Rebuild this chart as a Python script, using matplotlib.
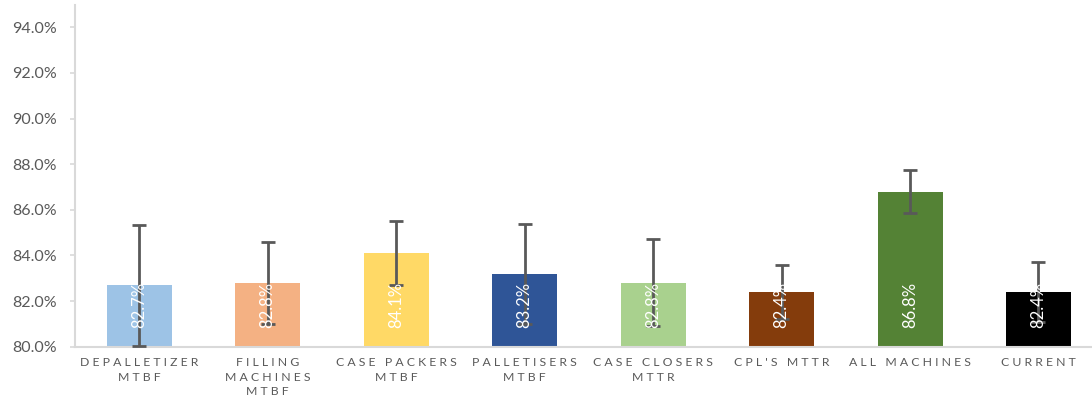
import matplotlib
matplotlib.use("Agg")
import matplotlib.pyplot as plt
from matplotlib.ticker import FuncFormatter

plt.rcParams['font.family'] = ['Lato', 'DejaVu Sans']

categories = ["DEPALLETIZER\nMTBF", "FILLING\nMACHINES\nMTBF", "CASE PACKERS\nMTBF",
              "PALLETISERS\nMTBF", "CASE CLOSERS\nMTTR", "CPL'S MTTR",
              "ALL MACHINES", "CURRENT"]
values = [82.7, 82.8, 84.1, 83.2, 82.8, 82.4, 86.8, 82.4]
errors = [2.65, 1.8, 1.4, 2.2, 1.9, 1.2, 0.93, 1.3]
colors = ["#9DC3E6", "#F4B183", "#FFD966", "#2F5597", "#A9D18E",
          "#843C0C", "#548235", "#000000"]
y_ticks = [80, 82, 84, 86, 88, 90, 92, 94]


def spaced(label):
    # widen letter spacing of the category labels
    lines = []
    for line in label.split("\n"):
        words = [" ".join(w) for w in line.split(" ")]
        lines.append("   ".join(words))
    return "\n".join(lines)


fig = plt.figure(figsize=(10.92, 3.99), dpi=100)
ax = fig.add_axes([75 / 1092, 52.3 / 399, 1027.7 / 1092, 342.2 / 399])

x = list(range(len(categories)))
ax.bar(x, [v - 80 for v in values], bottom=80, width=0.506, color=colors, zorder=2)
ax.errorbar(x, values, yerr=errors, fmt="none", ecolor="#595959",
            elinewidth=2, capsize=5, capthick=2, zorder=3)

for xi, v in zip(x, values):
    ax.annotate(f"{v:.1f}%", xy=(xi, 80), xytext=(0, 13.5), textcoords="offset points",
                rotation=90, ha="center", va="bottom", color="white",
                fontsize=12, zorder=4)

ax.set_xlim(-0.5, len(categories) - 0.5)
ax.set_ylim(80, 95)
ax.set_yticks(y_ticks)
ax.yaxis.set_major_formatter(FuncFormatter(lambda v, _: f"{v:.1f}%"))
ax.set_xticks(x)
ax.set_xticklabels([spaced(c) for c in categories], fontsize=8.8, color="#595959",
                   linespacing=1.38)

for s in ["top", "right"]:
    ax.spines[s].set_visible(False)
for s in ["left", "bottom"]:
    ax.spines[s].set_color("#D9D9D9")
    ax.spines[s].set_linewidth(1.5)

ax.tick_params(axis="y", colors="#D9D9D9", length=3.6, width=1.2, pad=9.5,
               labelcolor="#595959", labelsize=11.5)
ax.tick_params(axis="x", length=0, pad=7.5)

fig.savefig("out.png", dpi=100)
